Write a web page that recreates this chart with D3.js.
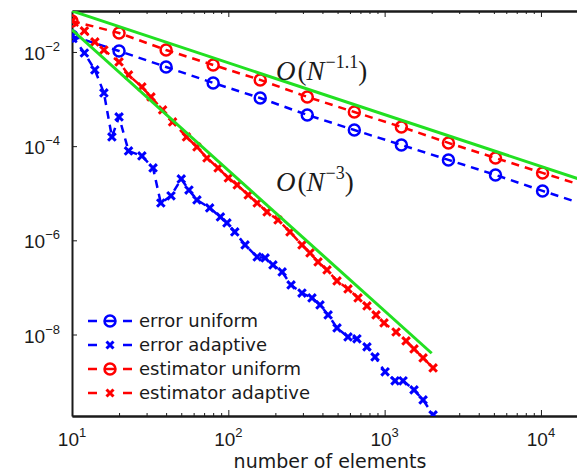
<!DOCTYPE html>
<html>
<head>
<meta charset="utf-8">
<script src="https://cdn.jsdelivr.net/npm/d3@7"></script>
<style>
  body { margin: 0; background: #fff; }
  svg { display: block; }
</style>
</head>
<body>
<div class="container"></div>
<script>
// uniform refinement: number of elements doubles each step
var nUniform = [10, 20, 40, 80, 160, 320, 640, 1280, 2560, 5120, 10240, 20480];
var errUniform = [0.0219, 0.0105, 4.8e-3, 2.2e-3, 1.05e-3, 4.6e-4, 2.2e-4, 1.06e-4, 5.1e-5, 2.45e-5, 1.12e-5, 5.3e-6];
var estUniform = [0.0455, 0.0253, 0.0110, 5.3e-3, 2.55e-3, 1.11e-3, 5.3e-4, 2.56e-4, 1.17e-4, 5.6e-5, 2.7e-5, 1.3e-5];

// adaptive refinement, error
var nErrAdaptive = [10, 12, 14, 16, 18, 20, 23, 28, 33, 37, 43, 50, 56, 63, 76, 89, 98, 110, 128, 153,
  172, 193, 221, 252, 296, 343, 386, 435, 496, 583, 665, 771, 868, 1007, 1166, 1312, 1542, 1762, 2042];
var errAdaptive = [0.0219, 9.5e-3, 4.15e-3, 1.35e-3, 1.57e-4, 4.17e-4, 7.9e-5, 6.2e-5, 3.44e-5, 6.2e-6,
  8.8e-6, 2.01e-5, 1.17e-5, 7.2e-6, 4.88e-6, 3.14e-6, 2.34e-6, 1.51e-6, 7.98e-7, 4.44e-7,
  4.23e-7, 3.0e-7, 2.13e-7, 1.13e-7, 7.6e-8, 5.98e-8, 4.25e-8, 2.61e-8, 1.38e-8, 8.9e-9,
  8.1e-9, 5.46e-9, 3.34e-9, 1.61e-9, 1.04e-9, 1.04e-9, 6.67e-10, 4.08e-10, 1.96e-10];

// adaptive refinement, estimator
var nEstAdaptive = [10, 12, 14, 16, 20, 23, 28, 32, 38, 44, 54, 63, 73, 86, 100, 114, 134, 153,
  177, 208, 248, 296, 333, 375, 428, 496, 583, 676, 771, 881, 991, 1183, 1371, 1542, 1762, 2042];
var estAdaptive = [0.0455, 0.0279, 0.0163, 0.0110, 6.14e-3, 3.25e-3, 1.81e-3, 1.11e-3, 5.87e-4, 3.27e-4,
  1.57e-4, 9.6e-5, 5.6e-5, 3.44e-5, 2.11e-5, 1.50e-5, 9.2e-6, 6.2e-6, 4.0e-6, 2.71e-6,
  1.51e-6, 7.98e-7, 5.4e-7, 3.47e-7, 2.35e-7, 1.37e-7, 9.3e-8, 5.98e-8, 4.05e-8, 2.61e-8,
  1.76e-8, 1.13e-8, 7.3e-9, 4.94e-9, 3.18e-9, 1.95e-9];

// reference slopes (end points)
var rateN1 = [10, 20480];
var rate1 = [0.0741, 1.69e-5];
var rateN3 = [10, 2000];
var rate3 = [0.0295, 4.0e-9];

var legendLabels = ['error uniform', 'error adaptive', 'estimator uniform', 'estimator adaptive'];
var xMajor = [10, 100, 1000, 10000];
var yMajor = [1e-2, 1e-4, 1e-6, 1e-8];

const WIDTH = 577;
const HEIGHT = 473;
const LEFT = 72, TOP = 11, BOTTOM = 416, RIGHT = 588;

var BLUE = '#0000ff', RED = '#ff0000', GREEN = '#22e022', INK = '#1a1a1a';

var svg = d3.select('.container').append('svg')
  .attr('width', WIDTH)
  .attr('height', HEIGHT);

var xScale = d3.scaleLog().domain([10, 20000]).range([LEFT, RIGHT]);
var yScale = d3.scaleLog().domain([1.86e-10, 0.0741]).range([BOTTOM, TOP]);

var xMinor = [];
xMajor.forEach(function(d){
  for (var k = 2; k <= 9; k++) if (d * k < 20000) xMinor.push(d * k);
});

svg.append('defs').append('clipPath').attr('id', 'plotclip')
  .append('rect')
  .attr('x', LEFT).attr('y', TOP)
  .attr('width', RIGHT - LEFT).attr('height', BOTTOM - TOP);

// axes: ticks point inward
var styleAxis = function(g){
  g.select('.domain').attr('stroke', INK).attr('stroke-width', 2);
  g.selectAll('.tick line').attr('stroke', INK).attr('stroke-width', 1);
};

svg.append('g').attr('transform', 'translate(0,' + BOTTOM + ')')
  .call(d3.axisBottom(xScale).tickValues(xMinor).tickSize(-3).tickSizeOuter(0).tickFormat(''))
  .call(styleAxis);
svg.append('g').attr('transform', 'translate(0,' + BOTTOM + ')')
  .call(d3.axisBottom(xScale).tickValues(xMajor).tickSize(-6).tickSizeOuter(0).tickFormat(''))
  .call(styleAxis);
svg.append('g').attr('transform', 'translate(0,' + TOP + ')')
  .call(d3.axisTop(xScale).tickValues(xMinor).tickSize(-3).tickSizeOuter(0).tickFormat(''))
  .call(styleAxis);
svg.append('g').attr('transform', 'translate(0,' + TOP + ')')
  .call(d3.axisTop(xScale).tickValues(xMajor).tickSize(-6).tickSizeOuter(0).tickFormat(''))
  .call(styleAxis);
svg.append('g').attr('transform', 'translate(' + LEFT + ',0)')
  .call(d3.axisLeft(yScale).tickValues(yMajor).tickSize(-5).tickSizeOuter(0).tickFormat(''))
  .call(styleAxis);

// tick labels as 10 with superscript exponent
var xl = svg.append('g').selectAll('text').data(xMajor).enter().append('text')
  .attr('x', function(d){ return xScale(d); })
  .attr('y', 446)
  .attr('text-anchor', 'middle')
  .attr('font-family', 'Liberation Sans, Arial, sans-serif')
  .attr('font-size', 19)
  .attr('fill', INK);
xl.append('tspan').text('10');
xl.append('tspan').attr('dy', -9).attr('font-size', 13)
  .text(function(d){ return Math.round(Math.log10(d)); });

var yl = svg.append('g').selectAll('text').data(yMajor).enter().append('text')
  .attr('x', 60)
  .attr('y', function(d){ return yScale(d) + 8; })
  .attr('text-anchor', 'end')
  .attr('font-family', 'Liberation Sans, Arial, sans-serif')
  .attr('font-size', 19)
  .attr('fill', INK);
yl.append('tspan').text('10');
yl.append('tspan').attr('dy', -9).attr('font-size', 13)
  .text(function(d){ return '\u2212' + Math.round(-Math.log10(d)); });

svg.append('text')
  .attr('x', (LEFT + RIGHT) / 2).attr('y', 468)
  .attr('text-anchor', 'middle')
  .attr('font-family', 'DejaVu Sans, sans-serif')
  .attr('font-size', 19)
  .attr('fill', INK)
  .text('number of elements');

// data
var plot = svg.append('g').attr('clip-path', 'url(#plotclip)');

var line = d3.line()
  .x(function(d){ return xScale(d[0]); })
  .y(function(d){ return yScale(d[1]); });

var crossPath = function(s){
  return 'M' + (-s) + ',' + (-s) + 'L' + s + ',' + s + 'M' + (-s) + ',' + s + 'L' + s + ',' + (-s);
};

var drawSeries = function(ns, vals, color, marker){
  var pts = ns.map(function(n, i){ return [n, vals[i]]; });
  plot.append('path')
    .attr('d', line(pts))
    .attr('fill', 'none')
    .attr('stroke', color)
    .attr('stroke-width', 2.5)
    .attr('stroke-dasharray', '8,6');
  var m = plot.append('g').selectAll('.m').data(pts).enter();
  if (marker === 'o') {
    m.append('circle')
      .attr('cx', function(d){ return xScale(d[0]); })
      .attr('cy', function(d){ return yScale(d[1]); })
      .attr('r', 5.5)
      .attr('fill', 'none')
      .attr('stroke', color)
      .attr('stroke-width', 2.5);
  } else {
    m.append('path')
      .attr('transform', function(d){ return 'translate(' + xScale(d[0]) + ',' + yScale(d[1]) + ')'; })
      .attr('d', crossPath(3.8))
      .attr('stroke', color)
      .attr('stroke-width', 3);
  }
};

drawSeries(nUniform, errUniform, BLUE, 'o');
drawSeries(nErrAdaptive, errAdaptive, BLUE, 'x');
drawSeries(nUniform, estUniform, RED, 'o');
drawSeries(nEstAdaptive, estAdaptive, RED, 'x');

[[rateN1, rate1], [rateN3, rate3]].forEach(function(r){
  plot.append('path')
    .attr('d', line(r[0].map(function(n, i){ return [n, r[1][i]]; })))
    .attr('fill', 'none')
    .attr('stroke', GREEN)
    .attr('stroke-width', 3);
});

// rate annotations
var rateLabel = function(x, y, expo){
  var t = svg.append('text')
    .attr('x', x).attr('y', y)
    .attr('font-family', 'Liberation Serif, DejaVu Serif, serif')
    .attr('font-size', 27)
    .attr('fill', INK);
  t.append('tspan').attr('font-style', 'italic').text('O');
  t.append('tspan').attr('dx', 2).text('(');
  t.append('tspan').attr('font-style', 'italic').text('N');
  t.append('tspan').attr('dy', -12).attr('dx', 1).attr('font-size', 18).text(expo);
  t.append('tspan').attr('dy', 12).text(')');
};
rateLabel(276, 80, '\u22121.1');
rateLabel(276, 191, '\u22123');

// legend, no box
var legendColors = [BLUE, BLUE, RED, RED];
var legendMarkers = ['o', 'x', 'o', 'x'];
var leg = svg.append('g').selectAll('g').data(legendLabels).enter().append('g')
  .attr('transform', function(d, i){ return 'translate(0,' + (321 + i * 24) + ')'; });
leg.append('line')
  .attr('x1', 88).attr('x2', 132)
  .attr('stroke', function(d, i){ return legendColors[i]; })
  .attr('stroke-width', 2.5)
  .attr('stroke-dasharray', '9,26');
leg.each(function(d, i){
  var g = d3.select(this);
  if (legendMarkers[i] === 'o') {
    g.append('circle').attr('cx', 110).attr('cy', 0).attr('r', 5.5)
      .attr('fill', 'none').attr('stroke', legendColors[i]).attr('stroke-width', 2.5);
    g.append('line').attr('x1', 105).attr('x2', 115)
      .attr('stroke', legendColors[i]).attr('stroke-width', 2.5);
  } else {
    g.append('path').attr('transform', 'translate(110,0)').attr('d', crossPath(3.5))
      .attr('stroke', legendColors[i]).attr('stroke-width', 3);
  }
});
leg.append('text')
  .attr('x', 139).attr('y', 6)
  .attr('font-family', 'DejaVu Sans, sans-serif')
  .attr('font-size', 18)
  .attr('fill', INK)
  .text(function(d){ return d; });
</script>
</body>
</html>
